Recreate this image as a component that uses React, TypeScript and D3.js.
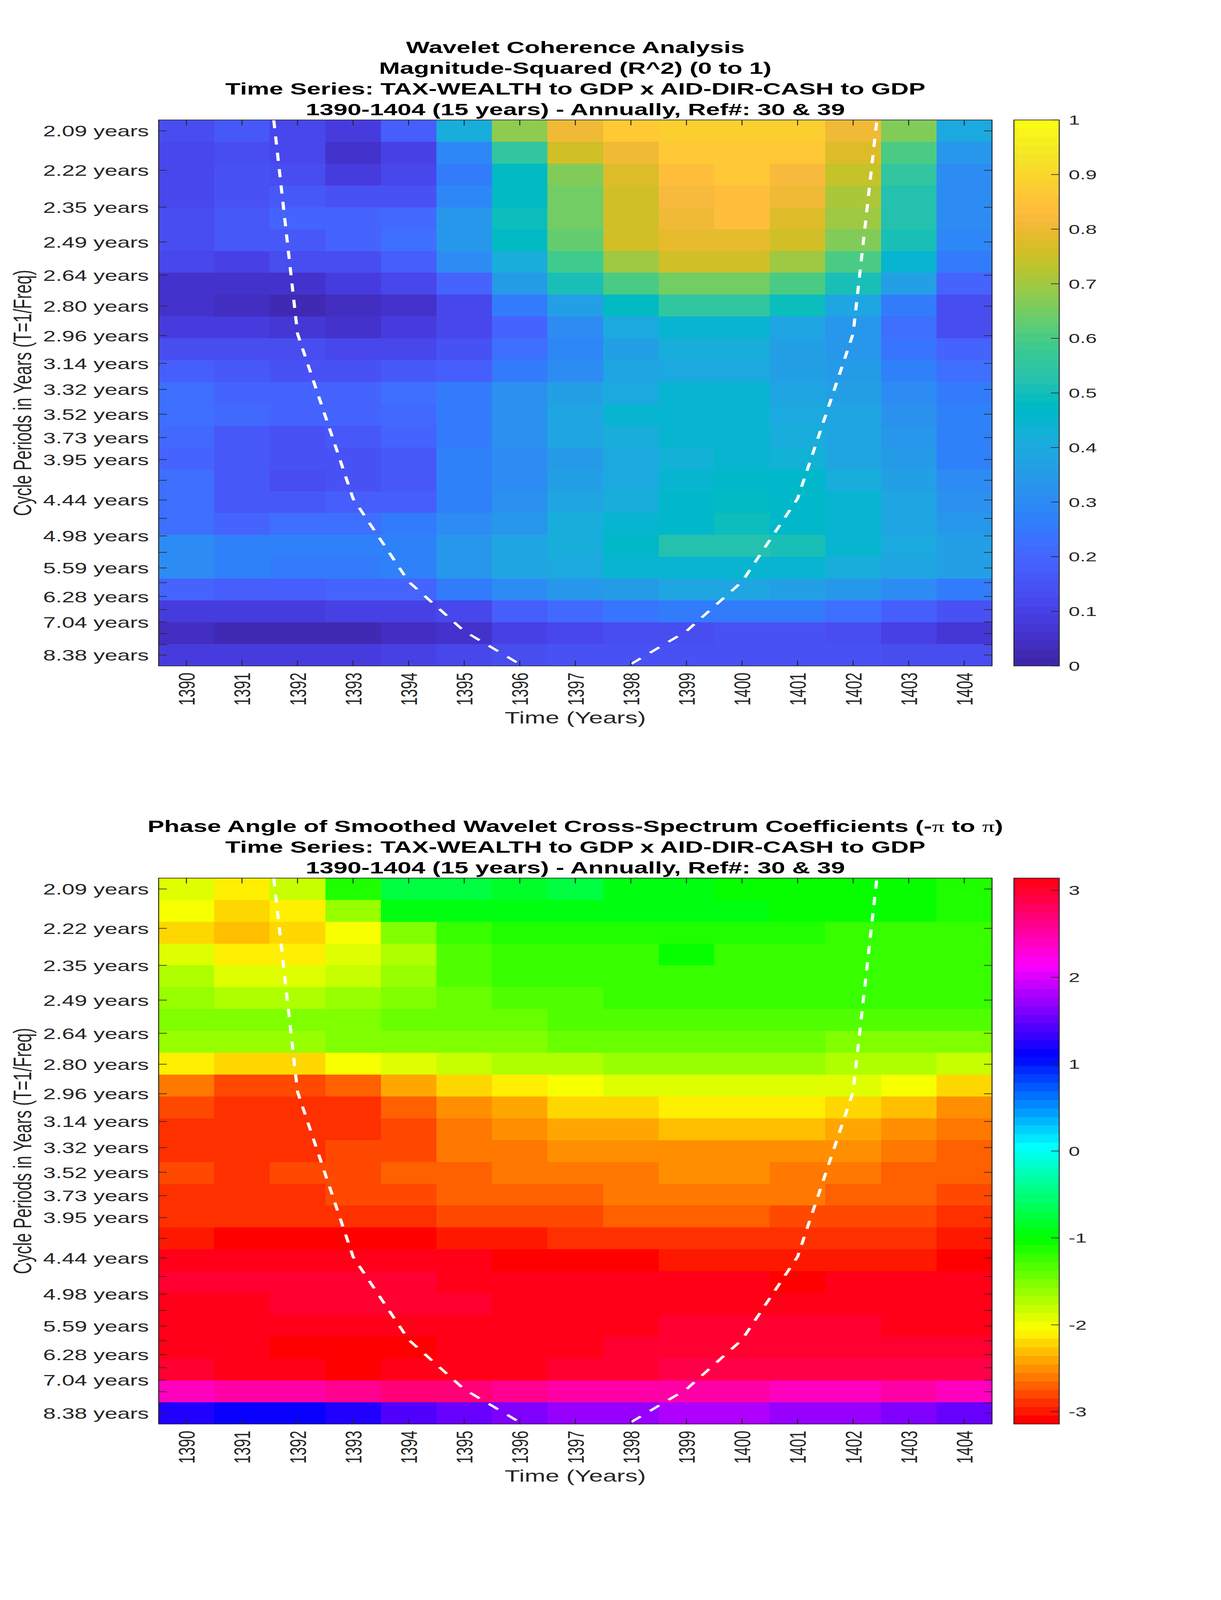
import * as d3 from 'd3';
import { useEffect, useState } from 'react';

// ---- data ----
const years = [1390, 1391, 1392, 1393, 1394, 1395, 1396, 1397, 1398, 1399, 1400, 1401, 1402, 1403, 1404];

// cycle periods (years), 12 voices per octave
const periods = [
  2.094, 2.219, 2.351, 2.490, 2.639, 2.795, 2.962, 3.138, 3.324, 3.522, 3.732, 3.953, 4.188,
  4.438, 4.701, 4.981, 5.277, 5.591, 5.923, 6.276, 6.649, 7.044, 7.463, 7.907, 8.377,
];
const periodLabels = [
  '2.09 years', '2.22 years', '2.35 years', '2.49 years', '2.64 years', '2.80 years', '2.96 years',
  '3.14 years', '3.32 years', '3.52 years', '3.73 years', '3.95 years', '', '4.44 years', '',
  '4.98 years', '', '5.59 years', '', '6.28 years', '', '7.04 years', '', '', '8.38 years',
];

// cone of influence (period, years) per year
const coiPeriods = [0.35, 1.47, 2.95, 4.42, 5.9, 7.37, 8.84, 10.31, 8.84, 7.37, 5.9, 4.42, 2.95, 1.47, 0.35];

// magnitude-squared coherence, one row per period (top = shortest)
const coherence = [
  [0.14, 0.17, 0.11, 0.08, 0.18, 0.42, 0.68, 0.8, 0.86, 0.89, 0.89, 0.89, 0.81, 0.67, 0.4],
  [0.12, 0.13, 0.11, 0.06, 0.1, 0.29, 0.55, 0.75, 0.81, 0.87, 0.87, 0.87, 0.77, 0.6, 0.34],
  [0.12, 0.15, 0.13, 0.09, 0.12, 0.26, 0.48, 0.67, 0.77, 0.83, 0.86, 0.82, 0.74, 0.55, 0.3],
  [0.12, 0.15, 0.17, 0.15, 0.15, 0.29, 0.48, 0.65, 0.76, 0.82, 0.84, 0.8, 0.71, 0.53, 0.3],
  [0.14, 0.16, 0.19, 0.19, 0.21, 0.33, 0.49, 0.65, 0.76, 0.8, 0.83, 0.78, 0.7, 0.52, 0.3],
  [0.14, 0.16, 0.17, 0.19, 0.23, 0.34, 0.48, 0.64, 0.76, 0.79, 0.79, 0.76, 0.67, 0.5, 0.29],
  [0.12, 0.1, 0.13, 0.13, 0.18, 0.3, 0.42, 0.58, 0.7, 0.76, 0.76, 0.7, 0.6, 0.44, 0.25],
  [0.06, 0.05, 0.06, 0.09, 0.12, 0.2, 0.35, 0.5, 0.6, 0.65, 0.65, 0.6, 0.5, 0.37, 0.19],
  [0.05, 0.04, 0.02, 0.04, 0.05, 0.12, 0.25, 0.37, 0.48, 0.55, 0.55, 0.49, 0.38, 0.26, 0.14],
  [0.08, 0.08, 0.07, 0.06, 0.08, 0.12, 0.2, 0.3, 0.4, 0.45, 0.45, 0.38, 0.33, 0.23, 0.14],
  [0.14, 0.14, 0.13, 0.11, 0.12, 0.15, 0.22, 0.29, 0.37, 0.41, 0.41, 0.37, 0.34, 0.24, 0.2],
  [0.18, 0.17, 0.15, 0.15, 0.16, 0.18, 0.26, 0.31, 0.38, 0.4, 0.4, 0.37, 0.35, 0.28, 0.23],
  [0.22, 0.2, 0.2, 0.2, 0.22, 0.26, 0.32, 0.36, 0.4, 0.44, 0.44, 0.38, 0.36, 0.3, 0.26],
  [0.23, 0.21, 0.2, 0.2, 0.21, 0.26, 0.32, 0.38, 0.44, 0.45, 0.45, 0.4, 0.38, 0.32, 0.27],
  [0.21, 0.17, 0.15, 0.16, 0.2, 0.26, 0.32, 0.38, 0.42, 0.45, 0.45, 0.41, 0.38, 0.33, 0.28],
  [0.19, 0.16, 0.15, 0.15, 0.17, 0.27, 0.3, 0.35, 0.4, 0.43, 0.45, 0.43, 0.39, 0.35, 0.28],
  [0.22, 0.16, 0.14, 0.15, 0.17, 0.27, 0.3, 0.37, 0.4, 0.45, 0.46, 0.46, 0.41, 0.36, 0.3],
  [0.22, 0.17, 0.17, 0.18, 0.18, 0.27, 0.32, 0.38, 0.41, 0.46, 0.47, 0.46, 0.44, 0.38, 0.32],
  [0.22, 0.2, 0.22, 0.22, 0.25, 0.3, 0.34, 0.41, 0.45, 0.46, 0.49, 0.46, 0.45, 0.38, 0.34],
  [0.3, 0.27, 0.27, 0.27, 0.28, 0.34, 0.38, 0.42, 0.46, 0.52, 0.52, 0.51, 0.45, 0.4, 0.37],
  [0.3, 0.28, 0.25, 0.26, 0.28, 0.33, 0.38, 0.4, 0.44, 0.45, 0.45, 0.44, 0.41, 0.39, 0.36],
  [0.2, 0.18, 0.18, 0.19, 0.2, 0.25, 0.3, 0.33, 0.35, 0.38, 0.38, 0.37, 0.33, 0.3, 0.26],
  [0.09, 0.09, 0.09, 0.1, 0.1, 0.12, 0.18, 0.21, 0.24, 0.26, 0.26, 0.26, 0.22, 0.18, 0.15],
  [0.04, 0.03, 0.03, 0.03, 0.04, 0.06, 0.1, 0.11, 0.13, 0.13, 0.15, 0.15, 0.14, 0.1, 0.07],
  [0.09, 0.09, 0.09, 0.09, 0.1, 0.12, 0.14, 0.15, 0.15, 0.15, 0.15, 0.15, 0.15, 0.14, 0.13],
];

// phase angle (radians), one row per period
const phase = [
  [-1.91, -2.11, -1.82, -1.13, -0.74, -0.74, -0.83, -0.74, -0.93, -0.93, -1.03, -1.03, -1.03, -1.03, -1.13],
  [-2.01, -2.21, -2.11, -1.62, -0.93, -0.93, -0.93, -0.93, -0.93, -0.93, -0.93, -1.03, -1.03, -1.03, -1.13],
  [-2.21, -2.31, -2.21, -2.01, -1.52, -1.23, -1.13, -1.13, -1.13, -1.13, -1.13, -1.13, -1.23, -1.23, -1.23],
  [-1.91, -2.11, -2.11, -1.91, -1.72, -1.33, -1.23, -1.23, -1.23, -1.03, -1.23, -1.23, -1.23, -1.23, -1.23],
  [-1.72, -1.91, -1.91, -1.82, -1.62, -1.33, -1.23, -1.23, -1.23, -1.23, -1.23, -1.23, -1.23, -1.23, -1.23],
  [-1.62, -1.72, -1.72, -1.62, -1.52, -1.42, -1.33, -1.33, -1.23, -1.23, -1.23, -1.23, -1.23, -1.23, -1.23],
  [-1.52, -1.52, -1.52, -1.52, -1.42, -1.42, -1.42, -1.33, -1.33, -1.33, -1.33, -1.33, -1.33, -1.33, -1.33],
  [-1.62, -1.62, -1.62, -1.52, -1.52, -1.52, -1.52, -1.42, -1.42, -1.42, -1.42, -1.42, -1.52, -1.52, -1.52],
  [-2.11, -2.21, -2.21, -2.01, -1.91, -1.82, -1.72, -1.72, -1.62, -1.62, -1.62, -1.62, -1.72, -1.72, -1.82],
  [-2.6, -2.8, -2.8, -2.7, -2.41, -2.21, -2.11, -2.01, -1.91, -1.91, -1.91, -1.91, -1.91, -2.01, -2.21],
  [-2.8, -2.9, -2.9, -2.9, -2.7, -2.5, -2.41, -2.21, -2.21, -2.11, -2.11, -2.11, -2.21, -2.31, -2.5],
  [-2.9, -2.9, -2.9, -2.9, -2.8, -2.6, -2.5, -2.41, -2.41, -2.31, -2.31, -2.31, -2.41, -2.5, -2.6],
  [-2.9, -2.9, -2.9, -2.8, -2.8, -2.6, -2.6, -2.5, -2.5, -2.5, -2.5, -2.5, -2.5, -2.6, -2.7],
  [-2.8, -2.9, -2.8, -2.8, -2.7, -2.7, -2.6, -2.6, -2.6, -2.5, -2.5, -2.6, -2.6, -2.7, -2.7],
  [-2.9, -2.9, -2.9, -2.8, -2.8, -2.7, -2.7, -2.7, -2.6, -2.6, -2.6, -2.6, -2.7, -2.7, -2.8],
  [-2.9, -2.9, -2.9, -2.9, -2.9, -2.8, -2.8, -2.8, -2.7, -2.7, -2.7, -2.8, -2.8, -2.8, -2.9],
  [-2.99, -3.09, -3.09, -3.09, -3.09, -2.99, -2.99, -2.9, -2.9, -2.9, -2.9, -2.9, -2.9, -2.9, -2.99],
  [3.09, 3.09, 3.09, 3.09, 3.09, 3.09, -3.09, -3.09, -3.09, -2.99, -2.99, -2.99, -2.99, -2.99, -3.09],
  [2.99, 2.99, 2.99, 2.99, 2.99, 3.09, 3.09, 3.09, 3.09, 3.09, 3.09, -3.09, 3.09, 3.09, 3.09],
  [3.09, 3.09, 2.99, 2.99, 2.99, 2.99, 3.09, 3.09, 3.09, 3.09, 3.09, 3.09, 3.09, 3.09, 3.09],
  [3.09, 3.09, 3.09, 3.09, 3.09, 3.09, 3.09, 3.09, 3.09, 2.99, 2.99, 2.99, 2.99, 3.09, 3.09],
  [3.09, 3.09, -3.09, -3.09, -3.09, 3.09, 3.09, 3.09, 2.99, 2.99, 2.99, 2.99, 2.99, 2.99, 2.99],
  [2.99, 3.09, 3.09, -3.09, 3.09, 3.09, 3.09, 2.99, 2.99, 2.9, 2.9, 2.9, 2.9, 2.9, 2.9],
  [2.41, 2.5, 2.5, 2.6, 2.7, 2.7, 2.6, 2.5, 2.5, 2.5, 2.5, 2.41, 2.41, 2.5, 2.41],
  [1.23, 1.13, 1.13, 1.23, 1.42, 1.52, 1.62, 1.72, 1.72, 1.82, 1.82, 1.72, 1.72, 1.62, 1.52],
];

const coherenceTicks = [0, 0.1, 0.2, 0.3, 0.4, 0.5, 0.6, 0.7, 0.8, 0.9, 1];
const phaseTicks = [-3, -2, -1, 0, 1, 2, 3];

const coherenceTitle = [
  'Wavelet Coherence Analysis',
  'Magnitude-Squared (R^2) (0 to 1)',
  'Time Series: TAX-WEALTH to GDP x AID-DIR-CASH to GDP',
  '1390-1404 (15 years) - Annually, Ref#: 30 & 39',
];
const phaseTitle = [
  'Phase Angle of Smoothed Wavelet Cross-Spectrum Coefficients (-\u03c0 to \u03c0)',
  'Time Series: TAX-WEALTH to GDP x AID-DIR-CASH to GDP',
  '1390-1404 (15 years) - Annually, Ref#: 30 & 39',
];

// MATLAB parula(64)
const parula = [
  [0.2422, 0.1504, 0.6603], [0.2504, 0.165, 0.7076], [0.2578, 0.1818, 0.7511], [0.2647, 0.1978, 0.7952],
  [0.2706, 0.2147, 0.8364], [0.2751, 0.2342, 0.871], [0.2783, 0.2559, 0.8991], [0.2803, 0.2782, 0.9221],
  [0.2813, 0.3006, 0.9414], [0.281, 0.3228, 0.9579], [0.2795, 0.3447, 0.9717], [0.276, 0.3667, 0.9829],
  [0.2699, 0.3892, 0.9906], [0.2602, 0.4123, 0.9952], [0.244, 0.4358, 0.9988], [0.2206, 0.4603, 0.9973],
  [0.1963, 0.4847, 0.9892], [0.1834, 0.5074, 0.9798], [0.1786, 0.5289, 0.9682], [0.1764, 0.5499, 0.952],
  [0.1687, 0.5703, 0.9359], [0.154, 0.5902, 0.9218], [0.146, 0.6091, 0.9079], [0.138, 0.6276, 0.8973],
  [0.1248, 0.6459, 0.8883], [0.1113, 0.6635, 0.8763], [0.0952, 0.6798, 0.8598], [0.0689, 0.6948, 0.8394],
  [0.0297, 0.7082, 0.8163], [0.0036, 0.7203, 0.7917], [0.0067, 0.7312, 0.766], [0.0433, 0.7411, 0.7394],
  [0.0964, 0.75, 0.712], [0.1408, 0.7584, 0.6842], [0.1717, 0.767, 0.6554], [0.1938, 0.7758, 0.6251],
  [0.2161, 0.7843, 0.5923], [0.247, 0.7918, 0.5567], [0.2906, 0.7973, 0.5188], [0.3406, 0.8008, 0.4789],
  [0.3909, 0.8029, 0.4354], [0.4456, 0.8024, 0.3909], [0.5044, 0.7993, 0.348], [0.5616, 0.7942, 0.3045],
  [0.6174, 0.7876, 0.2612], [0.672, 0.7793, 0.2227], [0.7242, 0.7698, 0.191], [0.7738, 0.7598, 0.1646],
  [0.8203, 0.7498, 0.1535], [0.8634, 0.7406, 0.1596], [0.9035, 0.733, 0.1774], [0.9393, 0.7288, 0.21],
  [0.9728, 0.7298, 0.2394], [0.9956, 0.7434, 0.2371], [0.997, 0.7659, 0.2199], [0.9952, 0.7893, 0.2028],
  [0.9892, 0.8136, 0.1885], [0.9786, 0.8386, 0.1766], [0.9676, 0.8639, 0.1643], [0.961, 0.889, 0.1537],
  [0.9597, 0.9135, 0.1423], [0.9628, 0.9373, 0.1265], [0.9691, 0.9606, 0.1064], [0.9769, 0.9839, 0.0805],
].map(([r, g, b]) => d3.rgb(r * 255, g * 255, b * 255).formatHex());

// MATLAB hsv(64)
const hsv = d3.range(64).map((i) => d3.hsl((i / 64) * 360, 1, 0.5).formatHex());

// ---- layout ----
const W = 3125;
const H = 6252;
const PL = 406;
const PR = 2539;
const PH = 2133.4;
const CB_L = 2595;
const CB_R = 2711;
const TICK = 21;
const FONT = '"Liberation Sans", Arial, Helvetica, sans-serif';
const INK = '#262626';

interface PanelProps {
  id: string;
  top: number;
  titles: string[];
  values: number[][];
  lo: number;
  hi: number;
  cmap: string[];
  cbTicks: number[];
}

const Panel = ({ id, top, titles, values, lo, hi, cmap, cbTicks }: PanelProps) => {
  const bottom = top + PH;
  const x = d3
    .scaleLinear()
    .domain([years[0] - 0.5, years[years.length - 1] + 0.5])
    .range([PL, PR]);

  // y axis is linear in frequency; image rows are evenly spaced between first and last
  const freqs = periods.map((p) => 1 / p);
  const n = freqs.length;
  const step = (freqs[0] - freqs[n - 1]) / (n - 1);
  const y = d3
    .scaleLinear()
    .domain([freqs[0] + step / 2, freqs[n - 1] - step / 2])
    .range([top, bottom]);

  const cb = d3.scaleLinear().domain([lo, hi]).range([bottom, top]);
  const m = cmap.length;
  const colorOf = (v: number) =>
    cmap[Math.max(0, Math.min(m - 1, Math.floor(((v - lo) / (hi - lo)) * m)))];

  const coi = d3
    .line<number>()
    .x((_, i) => x(years[i]))
    .y((p) => y(1 / p))(coiPeriods);

  const cellW = x(years[0] + 0.5) - x(years[0] - 0.5);

  return (
    <g>
      <defs>
        <clipPath id={`clip-${id}`}>
          <rect x={PL} y={top} width={PR - PL} height={PH} />
        </clipPath>
      </defs>

      {titles.map((t, i) => {
        const parts = t.split('\u03c0');
        return (
          <text
            key={i}
            x={(PL + PR) / 2}
            y={top - 18 - (titles.length - 1 - i) * 80.8}
            textAnchor='middle'
            fontFamily={FONT}
            fontWeight='bold'
            fontSize={64}
            fill='#000'
          >
            {parts.map((p, j) => (
              <tspan key={j}>
                {p}
                {j < parts.length - 1 && (
                  <tspan fontFamily='"Liberation Serif", "DejaVu Serif", serif' fontWeight='normal'>
                    {'\u03c0'}
                  </tspan>
                )}
              </tspan>
            ))}
          </text>
        );
      })}

      <g shapeRendering='crispEdges'>
        {values.map((row, r) =>
          row.map((v, c) => {
            const fc = freqs[0] - r * step;
            return (
              <rect
                key={`${r}-${c}`}
                x={x(years[c]) - cellW / 2}
                y={y(fc + step / 2)}
                width={cellW + 0.5}
                height={y(fc - step / 2) - y(fc + step / 2) + 0.5}
                fill={colorOf(v)}
              />
            );
          })
        )}
      </g>

      <path
        d={coi ?? ''}
        clipPath={`url(#clip-${id})`}
        fill='none'
        stroke='#fff'
        strokeWidth={8}
        strokeDasharray='32 32'
      />

      {/* axes box and ticks */}
      <g stroke={INK} strokeWidth={2.5}>
        <rect x={PL} y={top} width={PR - PL} height={PH} fill='none' />
        {years.map((yr) => (
          <g key={yr}>
            <line x1={x(yr)} x2={x(yr)} y1={bottom} y2={bottom - TICK} />
            <line x1={x(yr)} x2={x(yr)} y1={top} y2={top + TICK} />
          </g>
        ))}
        {freqs.map((f, i) => (
          <g key={i}>
            <line x1={PL} x2={PL + TICK} y1={y(f)} y2={y(f)} />
            <line x1={PR} x2={PR - TICK} y1={y(f)} y2={y(f)} />
          </g>
        ))}
      </g>

      <g fontFamily={FONT} fontSize={58} fill={INK}>
        {freqs.map((f, i) =>
          periodLabels[i] ? (
            <text key={i} x={PL - 25} y={y(f) + 22} textAnchor='end'>
              {periodLabels[i]}
            </text>
          ) : null
        )}
        {years.map((yr) => (
          <text
            key={yr}
            transform={`translate(${x(yr) + 21},${bottom + 26}) rotate(-90)`}
            textAnchor='end'
          >
            {yr}
          </text>
        ))}
      </g>

      <text
        x={(PL + PR) / 2}
        y={bottom + 225}
        textAnchor='middle'
        fontFamily={FONT}
        fontSize={64}
        fill={INK}
      >
        Time (Years)
      </text>
      <text
        transform={`translate(80,${top + PH / 2}) rotate(-90)`}
        textAnchor='middle'
        fontFamily={FONT}
        fontSize={64}
        fill={INK}
      >
        Cycle Periods in Years (T=1/Freq)
      </text>

      {/* colorbar */}
      <g shapeRendering='crispEdges'>
        {cmap.map((c, i) => {
          const v0 = lo + ((hi - lo) * i) / m;
          const v1 = lo + ((hi - lo) * (i + 1)) / m;
          return (
            <rect key={i} x={CB_L} y={cb(v1)} width={CB_R - CB_L} height={cb(v0) - cb(v1) + 0.5} fill={c} />
          );
        })}
      </g>
      <g stroke={INK} strokeWidth={2.5}>
        <rect x={CB_L} y={top} width={CB_R - CB_L} height={PH} fill='none' />
        {cbTicks.map((t) => (
          <line key={t} x1={CB_R} x2={CB_R - TICK} y1={cb(t)} y2={cb(t)} />
        ))}
      </g>
      <g fontFamily={FONT} fontSize={52} fill={INK}>
        {cbTicks.map((t) => (
          <text key={t} x={CB_R + 24} y={cb(t) + 18.6}>
            {String(t)}
          </text>
        ))}
      </g>
    </g>
  );
};

const App = () => {
  // the full figure is 3125 x 6252; if the visible page is shorter, fit the figure into it
  const [viewH, setViewH] = useState(H);
  useEffect(() => {
    const fit = () => setViewH(Math.min(H, window.innerHeight || H));
    fit();
    window.addEventListener('resize', fit);
    return () => window.removeEventListener('resize', fit);
  }, []);

  return (
    <div style={{ position: 'absolute', left: 0, top: 0, background: '#fff' }}>
      <svg
        width={W}
        height={viewH}
        viewBox={`0 0 ${W} ${H}`}
        preserveAspectRatio='none'
        style={{ display: 'block' }}
      >
        <rect width={W} height={H} fill='#fff' />
        <Panel
          id='coh'
          top={468.7}
          titles={coherenceTitle}
          values={coherence}
          lo={0}
          hi={1}
          cmap={parula}
          cbTicks={coherenceTicks}
        />
        <Panel
          id='phase'
          top={3431}
          titles={phaseTitle}
          values={phase}
          lo={-Math.PI}
          hi={Math.PI}
          cmap={hsv}
          cbTicks={phaseTicks}
        />
      </svg>
    </div>
  );
};

export default App;
